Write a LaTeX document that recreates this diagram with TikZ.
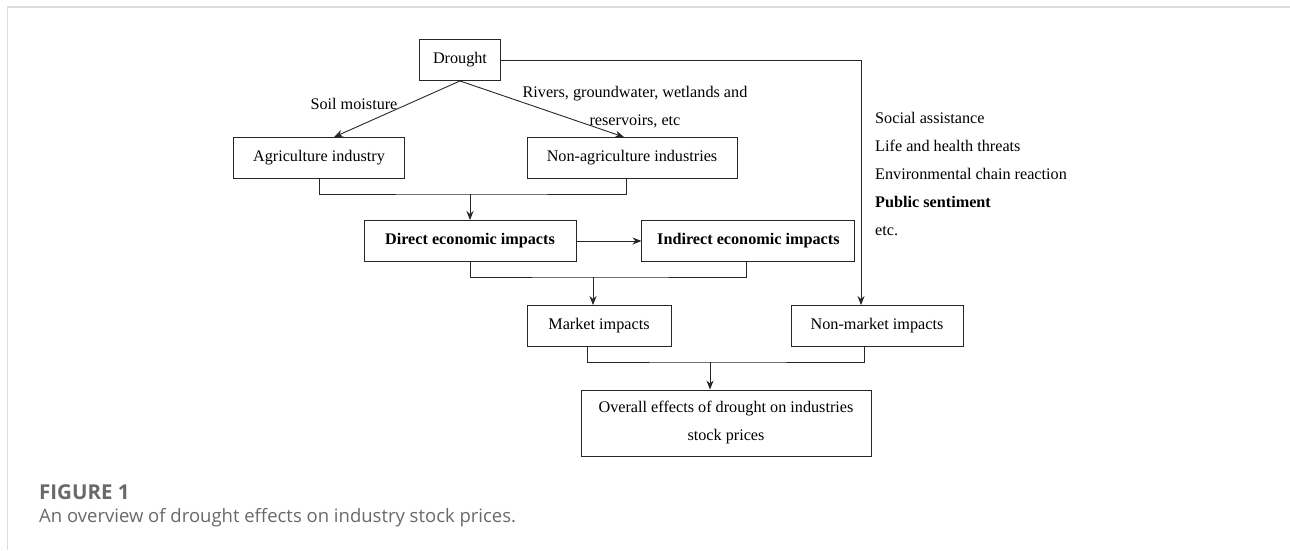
\documentclass[tikz,border=0pt]{standalone}
\usepackage{fontspec}
\setmainfont{Liberation Serif}
\newfontfamily\capfont{Open Sans}
\usetikzlibrary{arrows.meta,positioning}
\definecolor{framegray}{RGB}{220,220,220}
\definecolor{capgray}{RGB}{105,105,105}
\tikzset{%
  box/.style     = {shape=rectangle, draw=black!85, line width=0.9pt,%
                    align=center, inner sep=0pt, minimum height=41pt,%
                    font=\fontsize{16.2}{28}\selectfont},%
  keybox/.style  = {box, font=\fontsize{16.2}{28}\selectfont\bfseries},%
  note/.style    = {align=center, inner sep=0pt, font=\fontsize{16.2}{28}\selectfont},%
  link/.style    = {draw=black!85, line width=0.9pt},%
  flow/.style    = {link, -{Stealth[length=9pt,width=7pt]}}%
}

\begin{document}
\begin{tikzpicture}[x=1pt, y=-1pt]%
	\useasboundingbox (0,0) rectangle (1290,550);%
	\draw[framegray, line width=1.6pt] (1290,7) -- (7.5,7) -- (7.5,550);%
	% boxes
	\node[box, minimum width=171pt] (agri)      at (319,158) {Agriculture industry};%
	\node[box, minimum width=81pt]  (drought)   at (460,60)  {Drought};%
	\node[box, minimum width=210pt] (nonagri)   at (632,158) {Non-agriculture industries};%
	\node[keybox, minimum width=212pt] (direct) at (470,241) {Direct economic impacts};%
	\node[keybox, minimum width=213pt, right=65pt of direct] (indirect) {Indirect economic impacts};%
	\node[box, minimum width=144pt] (market)    at (599,326) {Market impacts};%
	\node[box, minimum width=172pt] (nonmarket) at (877,326) {Non-market impacts};%
	\node[box, minimum width=290pt, minimum height=66pt] (overall) at (726,423)%
		{Overall effects of drought on industries\\stock prices};%
	% labels
	\node[note] (soil)   at (354,104) {Soil moisture};%
	\node[note] (rivers) at (635,107) {Rivers, groundwater, wetlands and\\reservoirs, etc};%
	\node[note, align=left, anchor=west] (social) at (875,174)%
		{Social assistance\\Life and health threats\\Environmental chain reaction\\\textbf{Public sentiment}\\etc.};%
	% junctions
	\coordinate (j1) at (470,194);%
	\coordinate (j2) at (593,277);%
	\coordinate (j3) at (710,362);%
	% connectors
	\draw[flow] (drought.south) -- ([xshift=15pt]agri.north);%
	\draw[flow] (drought.south) -- ([xshift=-8pt]nonagri.north);%
	\draw[link] (agri.south) |- (j1) -| ([xshift=-6pt]nonagri.south);%
	\draw[flow] (j1) -- (direct.north);%
	\draw[flow] (direct.east) -- (indirect.west);%
	\draw[link] (direct.south) |- (j2) -| ([xshift=-2pt]indirect.south);%
	\draw[flow] (j2) -- (j2 |- market.north);%
	\draw[flow] (drought.east) -| ([xshift=-16pt]nonmarket.north);%
	\draw[link] ([xshift=-12pt]market.south) |- (j3) -| ([xshift=-13pt]nonmarket.south);%
	\draw[flow] (j3) -- (j3 |- overall.north);%
	% caption
	\node[anchor=west, inner sep=0pt, text=capgray, font=\capfont\bfseries\fontsize{20.5}{22}\selectfont] (fig) at (39,492) {FIGURE 1};%
	\node[anchor=west, inner sep=0pt, text=capgray, font=\capfont\fontsize{18.5}{22}\selectfont] (cap) at (39,518) {An overview of drought effects on industry stock prices.};%
\end{tikzpicture}
\end{document}
